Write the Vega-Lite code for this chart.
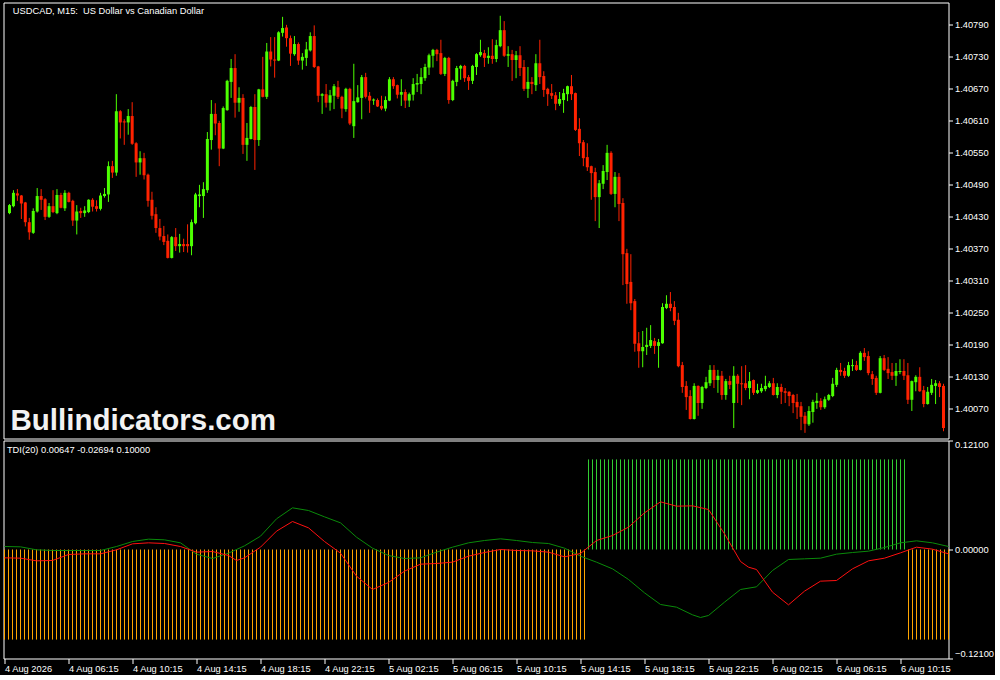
{
"$schema":"https://vega.github.io/schema/vega-lite/v6.json",
"background":"#000000",
"padding":{"left":1.5,"top":1.5,"right":0,"bottom":0},
"spacing":0,
"config":{"view":{"stroke":"#ffffff","strokeWidth":1},"axis":{"labelColor":"#ffffff","tickColor":"#ffffff","domain":false,"grid":false,"labelFont":"Liberation Sans","labelFontSize":9.3,"title":null,"labelOverlap":false,"labelSeparation":0}},
"datasets":{
"bars":[
{"i":0,"o":1.40436,"h":1.40453,"l":1.40434,"c":1.40451,"hist":-0.1},
{"i":1,"o":1.40449,"h":1.40479,"l":1.40447,"c":1.40474,"hist":-0.1},
{"i":2,"o":1.40473,"h":1.40481,"l":1.40459,"c":1.40469,"hist":-0.1},
{"i":3,"o":1.40469,"h":1.40470,"l":1.40425,"c":1.40454,"hist":-0.1},
{"i":4,"o":1.40456,"h":1.40457,"l":1.40411,"c":1.40419,"hist":-0.1},
{"i":5,"o":1.40419,"h":1.40427,"l":1.40386,"c":1.40400,"hist":-0.1},
{"i":6,"o":1.40399,"h":1.40445,"l":1.40397,"c":1.40440,"hist":-0.1},
{"i":7,"o":1.40439,"h":1.40483,"l":1.40437,"c":1.40468,"hist":-0.1},
{"i":8,"o":1.40468,"h":1.40481,"l":1.40442,"c":1.40461,"hist":-0.1},
{"i":9,"o":1.40462,"h":1.40464,"l":1.40423,"c":1.40429,"hist":-0.1},
{"i":10,"o":1.40429,"h":1.40455,"l":1.40427,"c":1.40449,"hist":-0.1},
{"i":11,"o":1.40449,"h":1.40479,"l":1.40436,"c":1.40438,"hist":-0.1},
{"i":12,"o":1.40436,"h":1.40481,"l":1.40434,"c":1.40470,"hist":-0.1},
{"i":13,"o":1.40470,"h":1.40474,"l":1.40445,"c":1.40446,"hist":-0.1},
{"i":14,"o":1.40445,"h":1.40479,"l":1.40440,"c":1.40474,"hist":-0.1},
{"i":15,"o":1.40474,"h":1.40476,"l":1.40456,"c":1.40457,"hist":-0.1},
{"i":16,"o":1.40459,"h":1.40461,"l":1.40412,"c":1.40422,"hist":-0.1},
{"i":17,"o":1.40422,"h":1.40451,"l":1.40396,"c":1.40439,"hist":-0.1},
{"i":18,"o":1.40440,"h":1.40446,"l":1.40427,"c":1.40436,"hist":-0.1},
{"i":19,"o":1.40436,"h":1.40449,"l":1.40429,"c":1.40441,"hist":-0.1},
{"i":20,"o":1.40438,"h":1.40462,"l":1.40436,"c":1.40461,"hist":-0.1},
{"i":21,"o":1.40461,"h":1.40464,"l":1.40439,"c":1.40448,"hist":-0.1},
{"i":22,"o":1.40449,"h":1.40460,"l":1.40439,"c":1.40444,"hist":-0.1},
{"i":23,"o":1.40444,"h":1.40474,"l":1.40441,"c":1.40469,"hist":-0.1},
{"i":24,"o":1.40468,"h":1.40483,"l":1.40465,"c":1.40472,"hist":-0.1},
{"i":25,"o":1.40471,"h":1.40533,"l":1.40457,"c":1.40524,"hist":-0.1},
{"i":26,"o":1.40524,"h":1.40534,"l":1.40502,"c":1.40512,"hist":-0.1},
{"i":27,"o":1.40512,"h":1.40659,"l":1.40506,"c":1.40627,"hist":-0.1},
{"i":28,"o":1.40627,"h":1.40629,"l":1.40576,"c":1.40606,"hist":-0.1},
{"i":29,"o":1.40608,"h":1.40612,"l":1.40564,"c":1.40606,"hist":-0.1},
{"i":30,"o":1.40606,"h":1.40631,"l":1.40583,"c":1.40618,"hist":-0.1},
{"i":31,"o":1.40618,"h":1.40644,"l":1.40564,"c":1.40566,"hist":-0.1},
{"i":32,"o":1.40567,"h":1.40569,"l":1.40504,"c":1.40531,"hist":-0.1},
{"i":33,"o":1.40531,"h":1.40552,"l":1.40508,"c":1.40539,"hist":-0.1},
{"i":34,"o":1.40539,"h":1.40549,"l":1.40499,"c":1.40507,"hist":-0.1},
{"i":35,"o":1.40508,"h":1.40510,"l":1.40448,"c":1.40459,"hist":-0.1},
{"i":36,"o":1.40461,"h":1.40476,"l":1.40424,"c":1.40431,"hist":-0.1},
{"i":37,"o":1.40434,"h":1.40447,"l":1.40399,"c":1.40408,"hist":-0.1},
{"i":38,"o":1.40408,"h":1.40425,"l":1.40385,"c":1.40392,"hist":-0.1},
{"i":39,"o":1.40393,"h":1.40412,"l":1.40376,"c":1.40382,"hist":-0.1},
{"i":40,"o":1.40384,"h":1.40396,"l":1.40351,"c":1.40352,"hist":-0.1},
{"i":41,"o":1.40352,"h":1.40393,"l":1.40351,"c":1.40391,"hist":-0.1},
{"i":42,"o":1.40391,"h":1.40408,"l":1.40365,"c":1.40374,"hist":-0.1},
{"i":43,"o":1.40374,"h":1.40397,"l":1.40362,"c":1.40378,"hist":-0.1},
{"i":44,"o":1.40378,"h":1.40388,"l":1.40363,"c":1.40374,"hist":-0.1},
{"i":45,"o":1.40378,"h":1.40415,"l":1.40362,"c":1.40374,"hist":-0.1},
{"i":46,"o":1.40374,"h":1.40424,"l":1.40357,"c":1.40419,"hist":-0.1},
{"i":47,"o":1.40417,"h":1.40474,"l":1.40415,"c":1.40471,"hist":-0.1},
{"i":48,"o":1.40468,"h":1.40489,"l":1.40447,"c":1.40471,"hist":-0.1},
{"i":49,"o":1.40468,"h":1.40494,"l":1.40427,"c":1.40481,"hist":-0.1},
{"i":50,"o":1.40479,"h":1.40588,"l":1.40474,"c":1.40575,"hist":-0.1},
{"i":51,"o":1.40573,"h":1.40648,"l":1.40555,"c":1.40622,"hist":-0.1},
{"i":52,"o":1.40622,"h":1.40642,"l":1.40582,"c":1.40604,"hist":-0.1},
{"i":53,"o":1.40605,"h":1.40609,"l":1.40524,"c":1.40557,"hist":-0.1},
{"i":54,"o":1.40557,"h":1.40636,"l":1.40556,"c":1.40633,"hist":-0.1},
{"i":55,"o":1.40629,"h":1.40686,"l":1.40628,"c":1.40684,"hist":-0.1},
{"i":56,"o":1.40682,"h":1.40725,"l":1.40652,"c":1.40708,"hist":-0.1},
{"i":57,"o":1.40708,"h":1.40734,"l":1.40615,"c":1.40643,"hist":-0.1},
{"i":58,"o":1.40643,"h":1.40672,"l":1.40626,"c":1.40652,"hist":-0.1},
{"i":59,"o":1.40652,"h":1.40659,"l":1.40547,"c":1.40564,"hist":-0.1},
{"i":60,"o":1.40564,"h":1.40605,"l":1.40534,"c":1.40577,"hist":-0.1},
{"i":61,"o":1.40575,"h":1.40637,"l":1.40574,"c":1.40635,"hist":-0.1},
{"i":62,"o":1.40635,"h":1.40659,"l":1.40517,"c":1.40573,"hist":-0.1},
{"i":63,"o":1.40573,"h":1.40669,"l":1.40562,"c":1.40668,"hist":-0.1},
{"i":64,"o":1.40668,"h":1.40729,"l":1.40653,"c":1.40654,"hist":-0.1},
{"i":65,"o":1.40654,"h":1.40755,"l":1.40650,"c":1.40739,"hist":-0.1},
{"i":66,"o":1.40739,"h":1.40766,"l":1.40711,"c":1.40724,"hist":-0.1},
{"i":67,"o":1.40724,"h":1.40766,"l":1.40690,"c":1.40722,"hist":-0.1},
{"i":68,"o":1.40722,"h":1.40777,"l":1.40721,"c":1.40775,"hist":-0.1},
{"i":69,"o":1.40774,"h":1.40804,"l":1.40767,"c":1.40783,"hist":-0.1},
{"i":70,"o":1.40784,"h":1.40789,"l":1.40748,"c":1.40764,"hist":-0.1},
{"i":71,"o":1.40764,"h":1.40769,"l":1.40712,"c":1.40735,"hist":-0.1},
{"i":72,"o":1.40734,"h":1.40768,"l":1.40731,"c":1.40753,"hist":-0.1},
{"i":73,"o":1.40753,"h":1.40756,"l":1.40714,"c":1.40722,"hist":-0.1},
{"i":74,"o":1.40722,"h":1.40736,"l":1.40705,"c":1.40729,"hist":-0.1},
{"i":75,"o":1.40727,"h":1.40757,"l":1.40712,"c":1.40743,"hist":-0.1},
{"i":76,"o":1.40741,"h":1.40775,"l":1.40739,"c":1.40768,"hist":-0.1},
{"i":77,"o":1.40768,"h":1.40788,"l":1.40708,"c":1.40710,"hist":-0.1},
{"i":78,"o":1.40711,"h":1.40712,"l":1.40644,"c":1.40656,"hist":-0.1},
{"i":79,"o":1.40656,"h":1.40661,"l":1.40622,"c":1.40659,"hist":-0.1},
{"i":80,"o":1.40659,"h":1.40678,"l":1.40634,"c":1.40643,"hist":-0.1},
{"i":81,"o":1.40643,"h":1.40667,"l":1.40628,"c":1.40657,"hist":-0.1},
{"i":82,"o":1.40656,"h":1.40678,"l":1.40631,"c":1.40674,"hist":-0.1},
{"i":83,"o":1.40672,"h":1.40684,"l":1.40650,"c":1.40654,"hist":-0.1},
{"i":84,"o":1.40654,"h":1.40656,"l":1.40614,"c":1.40632,"hist":-0.1},
{"i":85,"o":1.40631,"h":1.40671,"l":1.40626,"c":1.40669,"hist":-0.1},
{"i":86,"o":1.40669,"h":1.40671,"l":1.40601,"c":1.40604,"hist":-0.1},
{"i":87,"o":1.40599,"h":1.40716,"l":1.40577,"c":1.40646,"hist":-0.1},
{"i":88,"o":1.40644,"h":1.40676,"l":1.40643,"c":1.40653,"hist":-0.1},
{"i":89,"o":1.40652,"h":1.40695,"l":1.40612,"c":1.40691,"hist":-0.1},
{"i":90,"o":1.40691,"h":1.40699,"l":1.40651,"c":1.40654,"hist":-0.1},
{"i":91,"o":1.40656,"h":1.40663,"l":1.40624,"c":1.40647,"hist":-0.1},
{"i":92,"o":1.40647,"h":1.40651,"l":1.40639,"c":1.40649,"hist":-0.1},
{"i":93,"o":1.40648,"h":1.40651,"l":1.40635,"c":1.40636,"hist":-0.1},
{"i":94,"o":1.40637,"h":1.40656,"l":1.40629,"c":1.40632,"hist":-0.1},
{"i":95,"o":1.40632,"h":1.40655,"l":1.40627,"c":1.40648,"hist":-0.1},
{"i":96,"o":1.40647,"h":1.40691,"l":1.40646,"c":1.40687,"hist":-0.1},
{"i":97,"o":1.40687,"h":1.40691,"l":1.40669,"c":1.40674,"hist":-0.1},
{"i":98,"o":1.40676,"h":1.40677,"l":1.40651,"c":1.40658,"hist":-0.1},
{"i":99,"o":1.40658,"h":1.40687,"l":1.40637,"c":1.40663,"hist":-0.1},
{"i":100,"o":1.40663,"h":1.40668,"l":1.40633,"c":1.40647,"hist":-0.1},
{"i":101,"o":1.40647,"h":1.40662,"l":1.40635,"c":1.40659,"hist":-0.1},
{"i":102,"o":1.40658,"h":1.40689,"l":1.40647,"c":1.40678,"hist":-0.1},
{"i":103,"o":1.40677,"h":1.40697,"l":1.40663,"c":1.40680,"hist":-0.1},
{"i":104,"o":1.40678,"h":1.40708,"l":1.40659,"c":1.40691,"hist":-0.1},
{"i":105,"o":1.40689,"h":1.40716,"l":1.40684,"c":1.40710,"hist":-0.1},
{"i":106,"o":1.40709,"h":1.40735,"l":1.40695,"c":1.40732,"hist":-0.1},
{"i":107,"o":1.40731,"h":1.40744,"l":1.40709,"c":1.40742,"hist":-0.1},
{"i":108,"o":1.40742,"h":1.40744,"l":1.40721,"c":1.40734,"hist":-0.1},
{"i":109,"o":1.40736,"h":1.40761,"l":1.40695,"c":1.40697,"hist":-0.1},
{"i":110,"o":1.40697,"h":1.40729,"l":1.40693,"c":1.40727,"hist":-0.1},
{"i":111,"o":1.40727,"h":1.40729,"l":1.40641,"c":1.40648,"hist":-0.1},
{"i":112,"o":1.40648,"h":1.40686,"l":1.40646,"c":1.40684,"hist":-0.1},
{"i":113,"o":1.40682,"h":1.40712,"l":1.40674,"c":1.40708,"hist":-0.1},
{"i":114,"o":1.40707,"h":1.40714,"l":1.40686,"c":1.40712,"hist":-0.1},
{"i":115,"o":1.40712,"h":1.40714,"l":1.40682,"c":1.40689,"hist":-0.1},
{"i":116,"o":1.40691,"h":1.40695,"l":1.40667,"c":1.40684,"hist":-0.1},
{"i":117,"o":1.40684,"h":1.40714,"l":1.40678,"c":1.40712,"hist":-0.1},
{"i":118,"o":1.40710,"h":1.40736,"l":1.40695,"c":1.40734,"hist":-0.1},
{"i":119,"o":1.40732,"h":1.40761,"l":1.40729,"c":1.40738,"hist":-0.1},
{"i":120,"o":1.40736,"h":1.40742,"l":1.40710,"c":1.40727,"hist":-0.1},
{"i":121,"o":1.40727,"h":1.40747,"l":1.40716,"c":1.40731,"hist":-0.1},
{"i":122,"o":1.40731,"h":1.40762,"l":1.40716,"c":1.40725,"hist":-0.1},
{"i":123,"o":1.40725,"h":1.40761,"l":1.40719,"c":1.40751,"hist":-0.1},
{"i":124,"o":1.40749,"h":1.40806,"l":1.40747,"c":1.40779,"hist":-0.1},
{"i":125,"o":1.40779,"h":1.40796,"l":1.40729,"c":1.40731,"hist":-0.1},
{"i":126,"o":1.40731,"h":1.40749,"l":1.40710,"c":1.40734,"hist":-0.1},
{"i":127,"o":1.40734,"h":1.40742,"l":1.40684,"c":1.40723,"hist":-0.1},
{"i":128,"o":1.40723,"h":1.40740,"l":1.40689,"c":1.40732,"hist":-0.1},
{"i":129,"o":1.40732,"h":1.40749,"l":1.40693,"c":1.40708,"hist":-0.1},
{"i":130,"o":1.40710,"h":1.40723,"l":1.40665,"c":1.40669,"hist":-0.1},
{"i":131,"o":1.40669,"h":1.40710,"l":1.40652,"c":1.40682,"hist":-0.1},
{"i":132,"o":1.40682,"h":1.40691,"l":1.40659,"c":1.40678,"hist":-0.1},
{"i":133,"o":1.40676,"h":1.40734,"l":1.40665,"c":1.40717,"hist":-0.1},
{"i":134,"o":1.40717,"h":1.40761,"l":1.40678,"c":1.40691,"hist":-0.1},
{"i":135,"o":1.40693,"h":1.40702,"l":1.40654,"c":1.40667,"hist":-0.1},
{"i":136,"o":1.40669,"h":1.40671,"l":1.40637,"c":1.40659,"hist":-0.1},
{"i":137,"o":1.40661,"h":1.40678,"l":1.40650,"c":1.40656,"hist":-0.1},
{"i":138,"o":1.40657,"h":1.40663,"l":1.40629,"c":1.40641,"hist":-0.1},
{"i":139,"o":1.40641,"h":1.40663,"l":1.40637,"c":1.40650,"hist":-0.1},
{"i":140,"o":1.40648,"h":1.40669,"l":1.40624,"c":1.40661,"hist":-0.1},
{"i":141,"o":1.40659,"h":1.40675,"l":1.40646,"c":1.40674,"hist":-0.1},
{"i":142,"o":1.40674,"h":1.40695,"l":1.40648,"c":1.40659,"hist":-0.1},
{"i":143,"o":1.40661,"h":1.40662,"l":1.40590,"c":1.40592,"hist":-0.1},
{"i":144,"o":1.40594,"h":1.40614,"l":1.40543,"c":1.40567,"hist":-0.1},
{"i":145,"o":1.40569,"h":1.40573,"l":1.40524,"c":1.40539,"hist":-0.1},
{"i":146,"o":1.40541,"h":1.40567,"l":1.40515,"c":1.40522,"hist":0.1},
{"i":147,"o":1.40524,"h":1.40525,"l":1.40461,"c":1.40511,"hist":0.1},
{"i":148,"o":1.40513,"h":1.40521,"l":1.40421,"c":1.40466,"hist":0.1},
{"i":149,"o":1.40466,"h":1.40498,"l":1.40408,"c":1.40492,"hist":0.1},
{"i":150,"o":1.40491,"h":1.40526,"l":1.40481,"c":1.40515,"hist":0.1},
{"i":151,"o":1.40513,"h":1.40564,"l":1.40498,"c":1.40549,"hist":0.1},
{"i":152,"o":1.40549,"h":1.40552,"l":1.40470,"c":1.40472,"hist":0.1},
{"i":153,"o":1.40472,"h":1.40513,"l":1.40447,"c":1.40504,"hist":0.1},
{"i":154,"o":1.40504,"h":1.40511,"l":1.40421,"c":1.40453,"hist":0.1},
{"i":155,"o":1.40455,"h":1.40464,"l":1.40301,"c":1.40359,"hist":0.1},
{"i":156,"o":1.40361,"h":1.40369,"l":1.40266,"c":1.40303,"hist":0.1},
{"i":157,"o":1.40307,"h":1.40359,"l":1.40254,"c":1.40267,"hist":0.1},
{"i":158,"o":1.40271,"h":1.40275,"l":1.40176,"c":1.40191,"hist":0.1},
{"i":159,"o":1.40192,"h":1.40213,"l":1.40146,"c":1.40177,"hist":0.1},
{"i":160,"o":1.40177,"h":1.40215,"l":1.40147,"c":1.40185,"hist":0.1},
{"i":161,"o":1.40185,"h":1.40221,"l":1.40170,"c":1.40189,"hist":0.1},
{"i":162,"o":1.40187,"h":1.40226,"l":1.40183,"c":1.40198,"hist":0.1},
{"i":163,"o":1.40196,"h":1.40202,"l":1.40172,"c":1.40187,"hist":0.1},
{"i":164,"o":1.40187,"h":1.40200,"l":1.40146,"c":1.40194,"hist":0.1},
{"i":165,"o":1.40192,"h":1.40267,"l":1.40191,"c":1.40260,"hist":0.1},
{"i":166,"o":1.40258,"h":1.40282,"l":1.40256,"c":1.40266,"hist":0.1},
{"i":167,"o":1.40266,"h":1.40288,"l":1.40252,"c":1.40258,"hist":0.1},
{"i":168,"o":1.40260,"h":1.40271,"l":1.40226,"c":1.40234,"hist":0.1},
{"i":169,"o":1.40236,"h":1.40249,"l":1.40147,"c":1.40149,"hist":0.1},
{"i":170,"o":1.40151,"h":1.40157,"l":1.40099,"c":1.40110,"hist":0.1},
{"i":171,"o":1.40112,"h":1.40121,"l":1.40067,"c":1.40091,"hist":0.1},
{"i":172,"o":1.40093,"h":1.40104,"l":1.40049,"c":1.40050,"hist":0.1},
{"i":173,"o":1.40050,"h":1.40117,"l":1.40049,"c":1.40112,"hist":0.1},
{"i":174,"o":1.40112,"h":1.40113,"l":1.40056,"c":1.40080,"hist":0.1},
{"i":175,"o":1.40080,"h":1.40112,"l":1.40069,"c":1.40110,"hist":0.1},
{"i":176,"o":1.40108,"h":1.40129,"l":1.40106,"c":1.40119,"hist":0.1},
{"i":177,"o":1.40117,"h":1.40151,"l":1.40112,"c":1.40142,"hist":0.1},
{"i":178,"o":1.40142,"h":1.40151,"l":1.40108,"c":1.40123,"hist":0.1},
{"i":179,"o":1.40123,"h":1.40142,"l":1.40099,"c":1.40131,"hist":0.1},
{"i":180,"o":1.40131,"h":1.40140,"l":1.40086,"c":1.40095,"hist":0.1},
{"i":181,"o":1.40095,"h":1.40125,"l":1.40086,"c":1.40121,"hist":0.1},
{"i":182,"o":1.40121,"h":1.40131,"l":1.40106,"c":1.40114,"hist":0.1},
{"i":183,"o":1.40080,"h":1.40149,"l":1.40033,"c":1.40131,"hist":0.1},
{"i":184,"o":1.40131,"h":1.40134,"l":1.40080,"c":1.40116,"hist":0.1},
{"i":185,"o":1.40117,"h":1.40149,"l":1.40076,"c":1.40115,"hist":0.1},
{"i":186,"o":1.40117,"h":1.40151,"l":1.40104,"c":1.40108,"hist":0.1},
{"i":187,"o":1.40108,"h":1.40138,"l":1.40087,"c":1.40121,"hist":0.1},
{"i":188,"o":1.40123,"h":1.40124,"l":1.40095,"c":1.40099,"hist":0.1},
{"i":189,"o":1.40099,"h":1.40116,"l":1.40097,"c":1.40104,"hist":0.1},
{"i":190,"o":1.40102,"h":1.40116,"l":1.40099,"c":1.40108,"hist":0.1},
{"i":191,"o":1.40106,"h":1.40131,"l":1.40102,"c":1.40112,"hist":0.1},
{"i":192,"o":1.40110,"h":1.40121,"l":1.40108,"c":1.40117,"hist":0.1},
{"i":193,"o":1.40117,"h":1.40127,"l":1.40094,"c":1.40095,"hist":0.1},
{"i":194,"o":1.40095,"h":1.40117,"l":1.40089,"c":1.40110,"hist":0.1},
{"i":195,"o":1.40110,"h":1.40116,"l":1.40078,"c":1.40101,"hist":0.1},
{"i":196,"o":1.40102,"h":1.40108,"l":1.40080,"c":1.40099,"hist":0.1},
{"i":197,"o":1.40101,"h":1.40102,"l":1.40074,"c":1.40093,"hist":0.1},
{"i":198,"o":1.40095,"h":1.40097,"l":1.40061,"c":1.40080,"hist":0.1},
{"i":199,"o":1.40082,"h":1.40097,"l":1.40050,"c":1.40072,"hist":0.1},
{"i":200,"o":1.40074,"h":1.40082,"l":1.40029,"c":1.40054,"hist":0.1},
{"i":201,"o":1.40056,"h":1.40063,"l":1.40024,"c":1.40041,"hist":0.1},
{"i":202,"o":1.40040,"h":1.40074,"l":1.40037,"c":1.40065,"hist":0.1},
{"i":203,"o":1.40063,"h":1.40086,"l":1.40043,"c":1.40082,"hist":0.1},
{"i":204,"o":1.40080,"h":1.40099,"l":1.40069,"c":1.40084,"hist":0.1},
{"i":205,"o":1.40084,"h":1.40089,"l":1.40067,"c":1.40072,"hist":0.1},
{"i":206,"o":1.40072,"h":1.40092,"l":1.40069,"c":1.40087,"hist":0.1},
{"i":207,"o":1.40086,"h":1.40097,"l":1.40084,"c":1.40095,"hist":0.1},
{"i":208,"o":1.40093,"h":1.40127,"l":1.40091,"c":1.40116,"hist":0.1},
{"i":209,"o":1.40114,"h":1.40146,"l":1.40110,"c":1.40142,"hist":0.1},
{"i":210,"o":1.40142,"h":1.40155,"l":1.40131,"c":1.40138,"hist":0.1},
{"i":211,"o":1.40140,"h":1.40146,"l":1.40127,"c":1.40131,"hist":0.1},
{"i":212,"o":1.40131,"h":1.40157,"l":1.40129,"c":1.40151,"hist":0.1},
{"i":213,"o":1.40149,"h":1.40162,"l":1.40140,"c":1.40151,"hist":0.1},
{"i":214,"o":1.40151,"h":1.40159,"l":1.40140,"c":1.40142,"hist":0.1},
{"i":215,"o":1.40142,"h":1.40177,"l":1.40141,"c":1.40174,"hist":0.1},
{"i":216,"o":1.40174,"h":1.40183,"l":1.40159,"c":1.40166,"hist":0.1},
{"i":217,"o":1.40168,"h":1.40177,"l":1.40132,"c":1.40136,"hist":0.1},
{"i":218,"o":1.40134,"h":1.40140,"l":1.40114,"c":1.40125,"hist":0.1},
{"i":219,"o":1.40127,"h":1.40131,"l":1.40095,"c":1.40099,"hist":0.1},
{"i":220,"o":1.40099,"h":1.40168,"l":1.40098,"c":1.40164,"hist":0.1},
{"i":221,"o":1.40164,"h":1.40170,"l":1.40140,"c":1.40142,"hist":0.1},
{"i":222,"o":1.40144,"h":1.40166,"l":1.40125,"c":1.40136,"hist":0.1},
{"i":223,"o":1.40138,"h":1.40155,"l":1.40123,"c":1.40131,"hist":0.1},
{"i":224,"o":1.40131,"h":1.40155,"l":1.40112,"c":1.40140,"hist":0.1},
{"i":225,"o":1.40138,"h":1.40162,"l":1.40134,"c":1.40140,"hist":0.1},
{"i":226,"o":1.40140,"h":1.40162,"l":1.40123,"c":1.40131,"hist":-0.1},
{"i":227,"o":1.40132,"h":1.40155,"l":1.40078,"c":1.40086,"hist":-0.1},
{"i":228,"o":1.40086,"h":1.40122,"l":1.40065,"c":1.40121,"hist":-0.1},
{"i":229,"o":1.40119,"h":1.40132,"l":1.40102,"c":1.40129,"hist":-0.1},
{"i":230,"o":1.40129,"h":1.40147,"l":1.40101,"c":1.40102,"hist":-0.1},
{"i":231,"o":1.40104,"h":1.40112,"l":1.40072,"c":1.40078,"hist":-0.1},
{"i":232,"o":1.40078,"h":1.40110,"l":1.40077,"c":1.40101,"hist":-0.1},
{"i":233,"o":1.40099,"h":1.40125,"l":1.40095,"c":1.40114,"hist":-0.1},
{"i":234,"o":1.40112,"h":1.40123,"l":1.40078,"c":1.40117,"hist":-0.1},
{"i":235,"o":1.40117,"h":1.40121,"l":1.40091,"c":1.40110,"hist":-0.1},
{"i":236,"o":1.40112,"h":1.40116,"l":1.40027,"c":1.40033,"hist":-0.1}
],
"lines":[
{"i":0,"s":"a","v":0.00333},{"i":4,"s":"a","v":0.00296},{"i":8,"s":"a","v":-0.00037},{"i":12,"s":"a","v":-0.00111},{"i":16,"s":"a","v":-0.00111},{"i":20,"s":"a","v":-0.00111},{"i":24,"s":"a","v":-0.00111},{"i":28,"s":"a","v":0.00333},{"i":32,"s":"a","v":0.00888},{"i":36,"s":"a","v":0.01147},{"i":40,"s":"a","v":0.01073},{"i":44,"s":"a","v":0.0074},{"i":48,"s":"a","v":-0.00518},{"i":52,"s":"a","v":-0.00999},{"i":56,"s":"a","v":-0.00407},{"i":60,"s":"a","v":0.00407},{"i":64,"s":"a","v":0.0148},{"i":68,"s":"a","v":0.03404},{"i":72,"s":"a","v":0.04625},{"i":76,"s":"a","v":0.04329},{"i":80,"s":"a","v":0.03626},{"i":84,"s":"a","v":0.0296},{"i":88,"s":"a","v":0.01369},{"i":92,"s":"a","v":0.00148},{"i":96,"s":"a","v":-0.00666},{"i":100,"s":"a","v":-0.00999},{"i":104,"s":"a","v":-0.00925},{"i":108,"s":"a","v":-0.00296},{"i":112,"s":"a","v":0.00259},{"i":116,"s":"a","v":0.0074},{"i":120,"s":"a","v":0.00999},{"i":124,"s":"a","v":0.01184},{"i":128,"s":"a","v":0.00999},{"i":132,"s":"a","v":0.00777},{"i":136,"s":"a","v":0.00666},{"i":140,"s":"a","v":0.00148},{"i":144,"s":"a","v":-0.0074},{"i":148,"s":"a","v":-0.01406},{"i":152,"s":"a","v":-0.02146},{"i":156,"s":"a","v":-0.0333},{"i":160,"s":"a","v":-0.0481},{"i":164,"s":"a","v":-0.06105},{"i":168,"s":"a","v":-0.06401},{"i":172,"s":"a","v":-0.07252},{"i":174,"s":"a","v":-0.07548},{"i":176,"s":"a","v":-0.07326},{"i":180,"s":"a","v":-0.05846},{"i":184,"s":"a","v":-0.0444},{"i":188,"s":"a","v":-0.04144},{"i":192,"s":"a","v":-0.02331},{"i":196,"s":"a","v":-0.0111},{"i":200,"s":"a","v":-0.01036},{"i":204,"s":"a","v":-0.00962},{"i":208,"s":"a","v":-0.00518},{"i":212,"s":"a","v":-0.00333},{"i":216,"s":"a","v":-0.00185},{"i":220,"s":"a","v":0.00222},{"i":224,"s":"a","v":0.0074},{"i":228,"s":"a","v":0.00962},{"i":232,"s":"a","v":0.0074},{"i":236,"s":"a","v":0.00333},
{"i":0,"s":"b","v":-0.00925},{"i":4,"s":"b","v":-0.00962},{"i":8,"s":"b","v":-0.01258},{"i":12,"s":"b","v":-0.01221},{"i":16,"s":"b","v":-0.00555},{"i":20,"s":"b","v":-0.00481},{"i":24,"s":"b","v":-0.00481},{"i":28,"s":"b","v":-0.00037},{"i":32,"s":"b","v":0.00629},{"i":36,"s":"b","v":0.0074},{"i":40,"s":"b","v":0.00666},{"i":44,"s":"b","v":0.00333},{"i":48,"s":"b","v":-0.00296},{"i":52,"s":"b","v":-0.00222},{"i":56,"s":"b","v":-0.00666},{"i":58,"s":"b","v":-0.01221},{"i":60,"s":"b","v":-0.00925},{"i":64,"s":"b","v":0.00259},{"i":68,"s":"b","v":0.02035},{"i":72,"s":"b","v":0.03108},{"i":76,"s":"b","v":0.02405},{"i":80,"s":"b","v":0.00888},{"i":84,"s":"b","v":-0.00407},{"i":88,"s":"b","v":-0.0296},{"i":92,"s":"b","v":-0.0444},{"i":96,"s":"b","v":-0.03663},{"i":100,"s":"b","v":-0.02405},{"i":104,"s":"b","v":-0.01628},{"i":108,"s":"b","v":-0.01554},{"i":112,"s":"b","v":-0.01406},{"i":116,"s":"b","v":-0.0074},{"i":120,"s":"b","v":-0.00333},{"i":124,"s":"b","v":0.0},{"i":128,"s":"b","v":-0.00111},{"i":132,"s":"b","v":-0.00148},{"i":136,"s":"b","v":-0.00296},{"i":140,"s":"b","v":-0.00814},{"i":144,"s":"b","v":-0.00444},{"i":148,"s":"b","v":0.00999},{"i":152,"s":"b","v":0.01554},{"i":156,"s":"b","v":0.02479},{"i":160,"s":"b","v":0.0407},{"i":164,"s":"b","v":0.05291},{"i":168,"s":"b","v":0.0481},{"i":172,"s":"b","v":0.04847},{"i":176,"s":"b","v":0.0444},{"i":180,"s":"b","v":0.01739},{"i":184,"s":"b","v":-0.01332},{"i":186,"s":"b","v":-0.01961},{"i":188,"s":"b","v":-0.0222},{"i":192,"s":"b","v":-0.04736},{"i":196,"s":"b","v":-0.06142},{"i":200,"s":"b","v":-0.04625},{"i":204,"s":"b","v":-0.03515},{"i":208,"s":"b","v":-0.03441},{"i":212,"s":"b","v":-0.02146},{"i":216,"s":"b","v":-0.01258},{"i":220,"s":"b","v":-0.00962},{"i":224,"s":"b","v":-0.0037},{"i":228,"s":"b","v":0.00259},{"i":232,"s":"b","v":0.00037},{"i":236,"s":"b","v":-0.00481}
]
},
"vconcat":[
{
"width":945,"height":436,
"layer":[
{"data":{"name":"bars"},"mark":{"type":"rule","strokeWidth":1},
"encoding":{
"x":{"field":"i","type":"quantitative","scale":{"domain":[-0.25,236],"nice":false,"zero":false},"axis":null},
"y":{"field":"l","type":"quantitative","scale":{"domain":[1.400134,1.408309],"nice":false,"zero":false},"axis":{"orient":"right","values":[1.4007,1.4013,1.4019,1.4025,1.4031,1.4037,1.4043,1.4049,1.4055,1.4061,1.4067,1.4073,1.4079],"tickCount":20,"format":".5f","tickSize":4,"labelPadding":2,"labelFlush":false,"labelOverlap":false}},
"y2":{"field":"h"},
"color":{"condition":{"test":"datum.c >= datum.o","value":"#4cff00"},"value":"#ff2200"}}},
{"data":{"name":"bars"},"mark":{"type":"bar","size":3},
"encoding":{
"x":{"field":"i","type":"quantitative","axis":null},
"y":{"field":"o","type":"quantitative","axis":{"orient":"right","values":[1.4007,1.4013,1.4019,1.4025,1.4031,1.4037,1.4043,1.4049,1.4055,1.4061,1.4067,1.4073,1.4079],"tickCount":20,"format":".5f","tickSize":4,"labelPadding":2,"labelFlush":false,"labelOverlap":false}},
"y2":{"field":"c"},
"color":{"condition":{"test":"datum.c >= datum.o","value":"#4cff00"},"value":"#ff2200"}}},
{"data":{"values":[{"t":"USDCAD, M15: \u00a0US Dollar vs Canadian Dollar"}]},"mark":{"type":"text","align":"left","baseline":"middle","font":"Liberation Sans","fontSize":9.3,"color":"#ffffff"},
"encoding":{"x":{"datum":0.85,"type":"quantitative"},"y":{"datum":1.40815,"type":"quantitative"},"text":{"field":"t"}}},
{"data":{"values":[{"t":"Bullindicators.com"}]},"mark":{"type":"text","align":"left","baseline":"alphabetic","font":"Liberation Sans","fontSize":29.5,"fontWeight":"bold","color":"#f2f2f2"},
"encoding":{"x":{"datum":0.25,"type":"quantitative"},"y":{"datum":1.40029,"type":"quantitative"},"text":{"field":"t"}}}
]
},
{
"width":945,"height":218,
"layer":[
{"data":{"name":"bars"},"mark":{"type":"rule","strokeWidth":1},
"encoding":{
"x":{"field":"i","type":"quantitative","scale":{"domain":[-0.25,236],"nice":false,"zero":false},"axis":{"orient":"bottom","values":[0,16,32,48,64,80,96,112,128,144,160,176,192,208,224],"labelExpr":"['4 Aug 2026','4 Aug 06:15','4 Aug 10:15','4 Aug 14:15','4 Aug 18:15','4 Aug 22:15','5 Aug 02:15','5 Aug 06:15','5 Aug 10:15','5 Aug 14:15','5 Aug 18:15','5 Aug 22:15','6 Aug 02:15','6 Aug 06:15','6 Aug 10:15'][round(datum.value/16)]","labelAlign":"left","tickSize":5,"labelPadding":1,"labelOverlap":false,"labelFlush":false,"labelBound":false}},
"y":{"field":"hist","type":"quantitative","scale":{"domain":[-0.121,0.121],"nice":false,"zero":false},"axis":{"orient":"right","values":[0.121,0,-0.121],"format":".5f","tickSize":4,"labelPadding":2,"labelFlush":true,"labelOverlap":false}},
"y2":{"datum":0},
"color":{"condition":{"test":"datum.hist > 0","value":"#32cd32"},"value":"#ffa500"}}},
{"data":{"name":"lines"},"mark":{"type":"line","strokeWidth":1},
"encoding":{
"x":{"field":"i","type":"quantitative"},
"y":{"field":"v","type":"quantitative"},
"color":{"field":"s","type":"nominal","scale":{"domain":["a","b"],"range":["#0a8a0a","#ff1010"]},"legend":null}}},
{"data":{"values":[{"t":"TDI(20) 0.00647 -0.02694 0.10000"}]},"mark":{"type":"text","align":"left","baseline":"middle","font":"Liberation Sans","fontSize":9.3,"color":"#ffffff"},
"encoding":{"x":{"datum":0.6,"type":"quantitative"},"y":{"datum":0.111,"type":"quantitative"},"text":{"field":"t"}}}
]
}
]
}
